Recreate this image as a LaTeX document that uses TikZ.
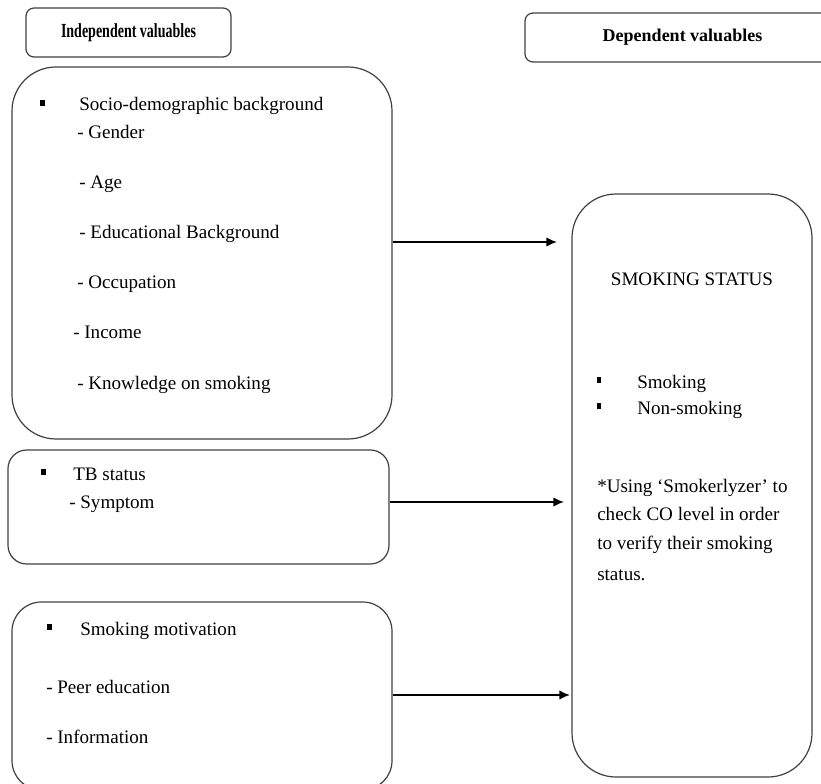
\documentclass[tikz,border=0pt]{standalone}
\usepackage{fontspec}
\setmainfont{Liberation Serif}
\newfontfamily\headfont[FakeStretch=0.7]{Liberation Serif}
\usetikzlibrary{arrows.meta}

\tikzset{
  box/.style={draw=black!75, line width=0.9pt, inner sep=0pt},
  headbox/.style={box, rounded corners=6pt, minimum height=36.75pt},
  txt/.style={anchor=base west, inner sep=0pt, font=\fontsize{14.3}{17}\selectfont},
  sqbullet/.style={fill=black, inner sep=0pt, minimum width=3.5pt, minimum height=4.5pt},
  arr/.style={-{Latex[length=8pt,width=7pt]}, line width=1.1pt},
}

\begin{document}
\begin{tikzpicture}[x=0.75pt,y=-0.75pt]
        \useasboundingbox (0,0) rectangle (821,784);

        \node[headbox, minimum width=153.75pt, font=\headfont\bfseries\fontsize{15}{17}\selectfont]
          (indephead) at (128.5,32.5) {Independent valuables};
        \node[headbox, minimum width=236.25pt, font=\bfseries\fontsize{13.5}{15}\selectfont]
          (dephead) at (682.5,37.5) {Dependent valuables};

        \begin{scope}
          \node[box, rounded corners=33pt, minimum width=285pt, minimum height=279pt] (socio) at (202,253) {};
          \node[sqbullet] (b1) at (42.5,103.5) {};
          \node[txt] (sociot) at (79,111) {Socio-demographic background};
          \node[txt] (gender) at (77,139) {- Gender};
          \node[txt] (age) at (79,189) {- Age};
          \node[txt] (edu) at (79,239) {- Educational Background};
          \node[txt] (occ) at (77,289) {- Occupation};
          \node[txt] (income) at (73,339) {- Income};
          \node[txt] (know) at (77,389) {- Knowledge on smoking};
        \end{scope}

        \begin{scope}
          \node[box, rounded corners=14pt, minimum width=285.75pt, minimum height=85.5pt] (tb) at (198.5,507) {};
          \node[sqbullet] (b2) at (43.5,471.5) {};
          \node[txt] (tbt) at (73,480) {TB status};
          \node[txt] (symptom) at (69,508) {- Symptom};
        \end{scope}

        \begin{scope}
          \node[box, rounded corners=22pt, minimum width=285pt, minimum height=141pt] (motiv) at (202,696) {};
          \node[sqbullet] (b3) at (49.5,626.5) {};
          \node[txt] (motivt) at (80,635) {Smoking motivation};
          \node[txt] (peer) at (46,693) {- Peer education};
          \node[txt] (info) at (46,743) {- Information};
        \end{scope}

        \begin{scope}
          \node[box, rounded corners=33pt, minimum width=180pt, minimum height=437.25pt] (status) at (692,485.5) {};
          \node[txt, anchor=base] (statust) at (692,286) {SMOKING STATUS};
          \node[sqbullet] (b4) at (599,380) {};
          \node[txt] (smk) at (637,388) {Smoking};
          \node[sqbullet] (b5) at (599,406) {};
          \node[txt] (nonsmk) at (637,414) {Non-smoking};
          \node[txt] (use1) at (597,492) {*Using ‘Smokerlyzer’ to};
          \node[txt] (use2) at (597,520) {check CO level in order};
          \node[txt] (use3) at (597,549) {to verify their smoking};
          \node[txt] (use4) at (597,580) {status.};
        \end{scope}

        \coordinate (tip1) at (557,242);
        \coordinate (tip2) at (564,502);
        \coordinate (tip3) at (570,695);
        \draw[arr] (socio.east |- tip1) -- (tip1);
        \draw[arr] (tb.east |- tip2) -- (tip2);
        \draw[arr] (motiv.east |- tip3) -- (tip3);
\end{tikzpicture}
\end{document}
